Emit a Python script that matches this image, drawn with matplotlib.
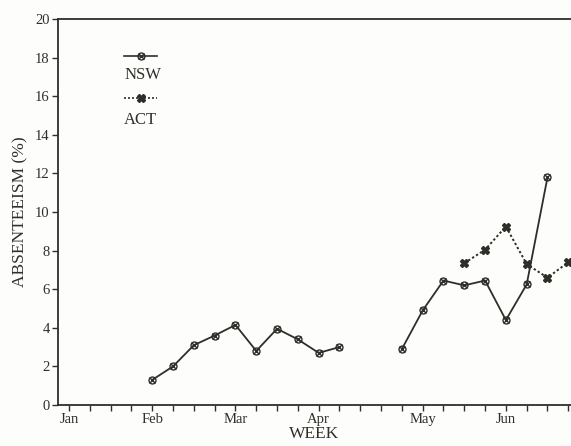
import numpy as np
import matplotlib
matplotlib.use('Agg')
import matplotlib.pyplot as plt

# 数据：周序号（Jan 第一周 = 0）
nsw_weeks = [4, 5, 6, 7, 8, 9, 10, 11, 12, 13, 16, 17, 18, 19, 20, 21, 22, 23]
nsw_vals = [1.3, 2.0, 3.1, 3.6, 4.15, 2.8, 3.95, 3.4, 2.7, 3.0,
            2.9, 4.9, 6.45, 6.2, 6.45, 4.4, 6.25, 11.8]
act_weeks = [19, 20, 21, 22, 23, 24]
act_vals = [7.35, 8.05, 9.25, 7.3, 6.6, 7.4]

month_weeks = [0, 4, 8, 12, 17, 21]
month_labels = ['Jan', 'Feb', 'Mar', 'Apr', 'May', 'Jun']

ink = '#2e2e2a'
plt.rcParams['font.family'] = ['Liberation Serif', 'DejaVu Serif']

fig = plt.figure(figsize=(5.71, 4.46), dpi=100, facecolor='#fdfdfb')
ax = fig.add_axes([0.1016, 0.092, 0.8984, 0.865], facecolor='#fdfdfb')

# NSW 间断处用 NaN 分开
nsw_x = np.array(nsw_weeks, dtype=float)
nsw_y = np.array(nsw_vals, dtype=float)
gap = np.where(np.diff(nsw_x) > 1)[0]
nsw_x = np.insert(nsw_x, gap + 1, np.nan)
nsw_y = np.insert(nsw_y, gap + 1, np.nan)

ax.plot(nsw_x, nsw_y, color=ink, lw=1.3, marker='o', ms=5,
        mfc='none', mec=ink, mew=1.0, clip_on=False, zorder=3)
ax.plot(nsw_weeks, nsw_vals, ls='none', marker='x', ms=4, mec=ink,
        mew=1.0, clip_on=False, zorder=4)
ax.plot(act_weeks, act_vals, color=ink, lw=1.4, ls=(0, (1.2, 1.2)),
        marker='X', ms=6, mfc=ink, mec=ink, clip_on=False, zorder=3)

# 图例（标签在线下方）
lx = [0.129, 0.193]
ax.plot(lx, [0.905, 0.905], color=ink, lw=1.2, transform=ax.transAxes)
ax.plot([0.161], [0.905], marker='o', ms=5, mfc='none', mec=ink,
        transform=ax.transAxes)
ax.plot([0.161], [0.905], marker='x', ms=4, mec=ink, transform=ax.transAxes)
ax.text(0.129, 0.856, 'NSW', transform=ax.transAxes, fontsize=12,
        color=ink, va='center', ha='left')
ax.plot(lx, [0.796, 0.796], color=ink, lw=1.2, ls=(0, (1.2, 1.2)),
        transform=ax.transAxes)
ax.plot([0.161], [0.796], marker='X', ms=6, mfc=ink, mec=ink,
        transform=ax.transAxes)
ax.text(0.129, 0.739, 'ACT', transform=ax.transAxes, fontsize=12,
        color=ink, va='center', ha='left')

ax.set_xlim(-0.53, 24.13)
ax.set_ylim(0, 20)
ax.set_yticks(range(0, 21, 2))
ax.set_xticks(range(0, 25))
ax.set_xticklabels([month_labels[month_weeks.index(w)] if w in month_weeks
                    else '' for w in range(0, 25)])
ax.tick_params(axis='both', colors=ink, labelsize=10.5, length=4, width=1,
               direction='out', pad=2)

ax.spines['right'].set_visible(False)
for s in ['left', 'bottom', 'top']:
    ax.spines[s].set_color(ink)
    ax.spines[s].set_linewidth(1.3)

ax.set_ylabel('ABSENTEEISM (%)', fontsize=12.5, color=ink, labelpad=5)
ax.set_xlabel('WEEK', fontsize=12.5, color=ink, labelpad=0)

fig.savefig('out.png', dpi=100, facecolor=fig.get_facecolor())
